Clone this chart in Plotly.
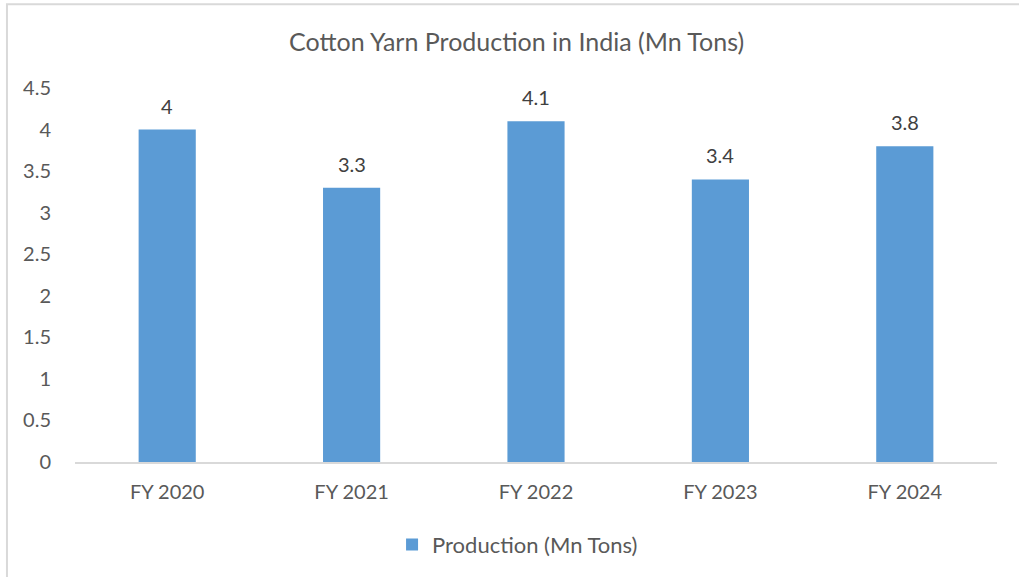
import plotly.graph_objects as go

categories = ["FY 2020", "FY 2021", "FY 2022", "FY 2023", "FY 2024"]
production = [4, 3.3, 4.1, 3.4, 3.8]
y_ticks = [0, 0.5, 1, 1.5, 2, 2.5, 3, 3.5, 4, 4.5]
y_tick_labels = ["0", "0.5", "1", "1.5", "2", "2.5", "3", "3.5", "4", "4.5"]

FONT = "Lato, 'Open Sans', sans-serif"
GREY = "#595959"
BAR = "#5B9BD5"

fig = go.Figure()
fig.add_trace(go.Bar(
    x=categories, y=production, name="Production (Mn Tons)",
    marker=dict(color=BAR, line=dict(width=0)),
))

for c, v in zip(categories, production):
    fig.add_annotation(x=c, y=v, text=f"{v:g}", showarrow=False,
                       yanchor="middle", yshift=24,
                       font=dict(family=FONT, size=20, color="#404040"))

# outer chart border
fig.add_shape(type="rect", xref="paper", yref="paper",
              x0=-0.0738, x1=1.04, y0=-0.36, y1=1.224,
              line=dict(color="#D9D9D9", width=2), layer="below")

fig.update_layout(
    width=1019, height=577,
    margin=dict(l=75, r=22, t=88, b=114),
    paper_bgcolor="white", plot_bgcolor="white",
    font=dict(family=FONT, size=20, color=GREY),
    title=dict(text="Cotton Yarn Production in India (Mn Tons)",
               x=0.479, xref="paper", xanchor="center",
               y=1 - 42 / 577, yanchor="middle",
               font=dict(family=FONT, size=25, color=GREY)),
    bargap=0.69,
    showlegend=True,
    legend=dict(orientation="h", x=0.48, xanchor="center",
                y=-0.218, yanchor="middle",
                font=dict(family=FONT, size=22, color=GREY),
                itemwidth=30),
    xaxis=dict(showgrid=False, showline=True, linecolor="#D9D9D9", linewidth=2,
               ticks="", ticklabelstandoff=11, fixedrange=True,
               tickfont=dict(family=FONT, size=20, color=GREY)),
    yaxis=dict(range=[0, 4.5], tickvals=y_ticks, ticktext=y_tick_labels,
               showgrid=False, showline=False, zeroline=False,
               ticks="", ticklabelstandoff=23, fixedrange=True,
               tickfont=dict(family=FONT, size=20, color=GREY)),
)

fig.write_html("out.html", config={"displayModeBar": False})

# remove the browser's default body margin so the figure sits at the page origin
with open("out.html", "r", encoding="utf-8") as f:
    html = f.read()
html = html.replace("<head>", "<head><style>html,body{margin:0;padding:0;}</style>", 1)
with open("out.html", "w", encoding="utf-8") as f:
    f.write(html)
